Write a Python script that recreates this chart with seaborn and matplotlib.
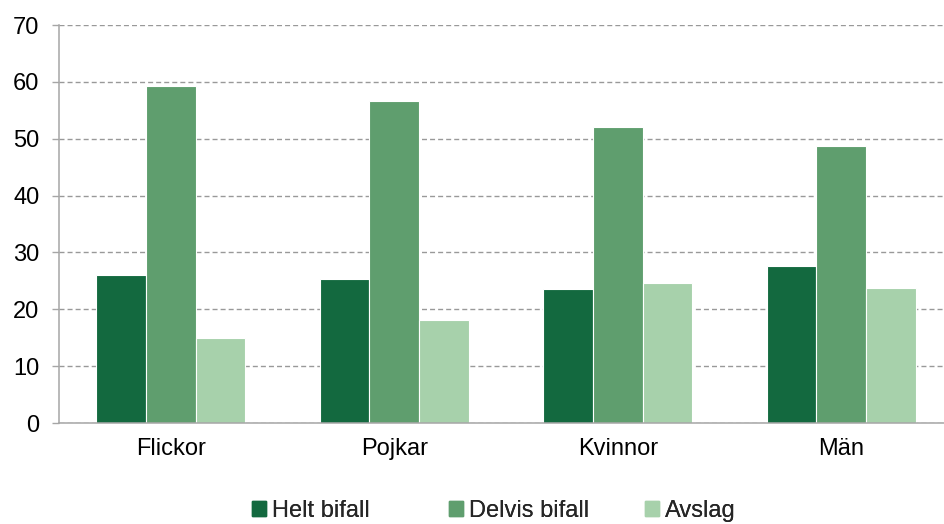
import pandas as pd
import matplotlib
matplotlib.use('Agg')
import matplotlib.pyplot as plt
import matplotlib.patches as mpatches
import seaborn as sns

# Data (percent)
groups = ['Flickor', 'Pojkar', 'Kvinnor', 'Män']
series = ['Helt bifall', 'Delvis bifall', 'Avslag']
helt_bifall = [26.0, 25.4, 23.5, 27.6]
delvis_bifall = [59.3, 56.6, 52.1, 48.8]
avslag = [14.9, 18.2, 24.6, 23.7]
colors = ['#13693F', '#5F9E6E', '#A7D1AB']

df = pd.DataFrame({
    'grupp': groups * 3,
    'typ': [s for s in series for _ in groups],
    'andel': helt_bifall + delvis_bifall + avslag,
})

sns.set_style('white')
plt.rcParams['font.family'] = ['Liberation Sans', 'DejaVu Sans']

fig = plt.figure(figsize=(9.44, 5.24), dpi=100)
ax = fig.add_axes([59 / 944, 101 / 524, 894 / 944, 398 / 524])

sns.barplot(data=df, x='grupp', y='andel', hue='typ', order=groups,
            hue_order=series, palette=colors, saturation=1, width=0.667,
            gap=0, edgecolor='white', linewidth=0.8, legend=False, ax=ax)

ax.set_ylim(0, 70)
ax.set_xlim(-0.5, 3.5)
ax.set_yticks(range(0, 71, 10))
ax.set_xlabel('')
ax.set_ylabel('')
ax.yaxis.grid(True, color='#999999', linestyle=(0, (3.6, 2.2)), linewidth=1.0)
ax.set_axisbelow(True)

for side in ['top', 'right']:
    ax.spines[side].set_visible(False)
for side in ['left', 'bottom']:
    ax.spines[side].set_color('#a6a6a6')
    ax.spines[side].set_linewidth(1.1)

ax.tick_params(axis='y', left=True, length=5, width=1.0, color='#a6a6a6',
               pad=9, labelsize=17, labelcolor='black')
ax.tick_params(axis='x', bottom=False, length=0, pad=11, labelsize=17,
               labelcolor='black')

# one legend per entry so the columns are evenly spaced like the original
for i, (name, col) in enumerate(zip(series, colors)):
    handle = mpatches.Patch(color=col, label=name)
    leg = fig.legend(handles=[handle], loc='center left',
                     bbox_to_anchor=((252 + i * 196.5) / 944, 1 - 511 / 524),
                     frameon=False, fontsize=17, handlelength=0.6,
                     handleheight=0.6, handletextpad=0.25, borderaxespad=0,
                     borderpad=0)
    fig.add_artist(leg)

fig.savefig('out.png', dpi=100)
